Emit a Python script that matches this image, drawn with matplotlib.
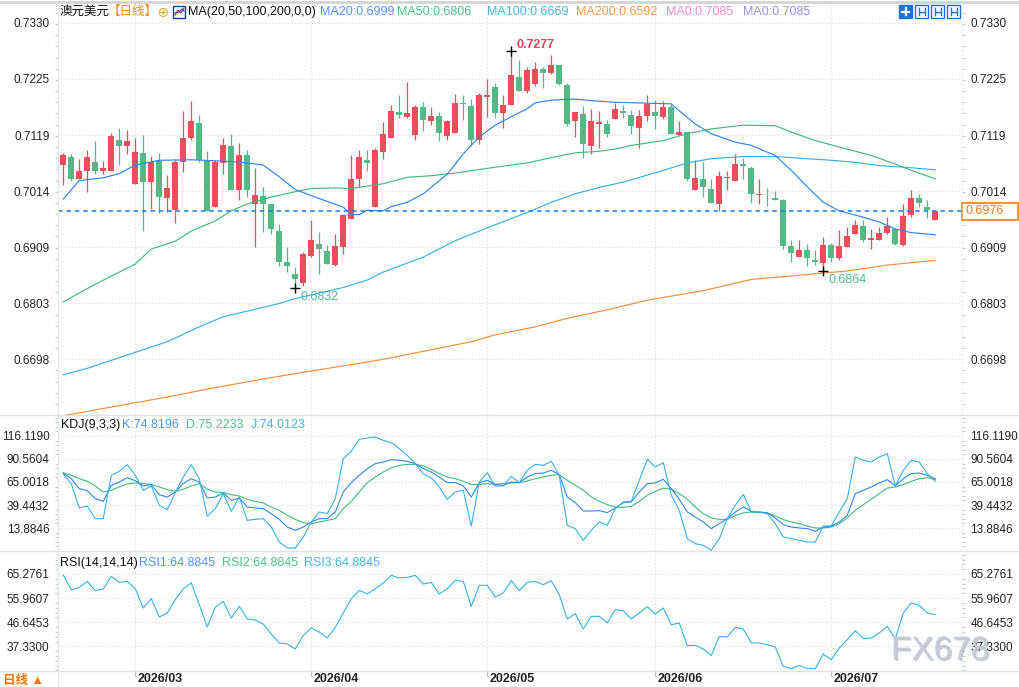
import matplotlib
matplotlib.use('Agg')
import matplotlib.pyplot as plt
import matplotlib.transforms as mtransforms
import matplotlib.patheffects as pe
from matplotlib.lines import Line2D
from matplotlib.patches import Rectangle
import numpy as np
import pandas as pd

plt.rcParams['font.family'] = ['Liberation Sans', 'Noto Sans CJK SC', 'DejaVu Sans']

# ---- daily candles, AUD/USD ----
start_day = '2026-02-17'
opens = [
    0.7063, 0.7079, 0.7037, 0.7052, 0.7068, 0.7052, 0.7052, 0.7111, 0.7099, 0.7027,
    0.7086, 0.7031, 0.7070, 0.7001, 0.6979, 0.7069, 0.7113, 0.7143, 0.7070, 0.6985,
    0.7066, 0.7098, 0.7017, 0.7081, 0.6990, 0.7004, 0.6989, 0.6940, 0.6880, 0.6858,
    0.6841, 0.6893, 0.6915, 0.6901, 0.6875, 0.6909, 0.6962, 0.7037, 0.7073, 0.6985,
    0.7087, 0.7114, 0.7163, 0.7154, 0.7119, 0.7173, 0.7145, 0.7155, 0.7118, 0.7123,
    0.7180, 0.7174, 0.7110, 0.7190, 0.7210, 0.7161, 0.7176, 0.7228, 0.7203, 0.7215,
    0.7244, 0.7236, 0.7252, 0.7214, 0.7146, 0.7159, 0.7098, 0.7141, 0.7141, 0.7149,
    0.7165, 0.7158, 0.7132, 0.7155, 0.7162, 0.7153, 0.7173, 0.7120, 0.7126, 0.7017,
    0.7037, 0.7018, 0.6990, 0.7038, 0.7033, 0.7065, 0.7058, 0.7006, 0.7005, 0.7001,
    0.6997, 0.6910, 0.6890, 0.6903, 0.6884, 0.6879, 0.6913, 0.6888, 0.6909, 0.6934,
    0.6948, 0.6923, 0.6923, 0.6935, 0.6942, 0.6912, 0.6970, 0.7001, 0.6985, 0.6960]
highs = [
    0.7086, 0.7083, 0.7075, 0.7091, 0.7108, 0.7070, 0.7123, 0.7133, 0.7128, 0.7113,
    0.7119, 0.7080, 0.7086, 0.7044, 0.7075, 0.7164, 0.7183, 0.7157, 0.7089, 0.7072,
    0.7113, 0.7121, 0.7105, 0.7092, 0.7058, 0.7021, 0.6990, 0.6953, 0.6909, 0.6871,
    0.6900, 0.6959, 0.6938, 0.6912, 0.6934, 0.6971, 0.7081, 0.7091, 0.7091, 0.7096,
    0.7144, 0.7176, 0.7195, 0.7219, 0.7176, 0.7182, 0.7173, 0.7163, 0.7147, 0.7197,
    0.7195, 0.7187, 0.7199, 0.7224, 0.7217, 0.7195, 0.7277, 0.7261, 0.7247, 0.7257,
    0.7247, 0.7269, 0.7252, 0.7218, 0.7163, 0.7174, 0.7168, 0.7165, 0.7147, 0.7179,
    0.7175, 0.7167, 0.7167, 0.7195, 0.7185, 0.7183, 0.7177, 0.7145, 0.7126, 0.7073,
    0.7068, 0.7037, 0.7052, 0.7052, 0.7084, 0.7076, 0.7062, 0.7037, 0.7020, 0.7015,
    0.7000, 0.6923, 0.6923, 0.6914, 0.6903, 0.6928, 0.6916, 0.6941, 0.6947, 0.6959,
    0.6959, 0.6943, 0.6947, 0.6966, 0.6942, 0.6989, 0.7017, 0.7009, 0.6998, 0.6976]
lows = [
    0.7025, 0.7033, 0.7036, 0.7012, 0.7047, 0.7046, 0.7052, 0.7063, 0.7083, 0.7027,
    0.6940, 0.6981, 0.6972, 0.6974, 0.6954, 0.7050, 0.7110, 0.7069, 0.6977, 0.6984,
    0.7047, 0.7016, 0.6998, 0.7003, 0.6909, 0.6937, 0.6934, 0.6874, 0.6862, 0.6832,
    0.6836, 0.6890, 0.6859, 0.6877, 0.6873, 0.6895, 0.6962, 0.7021, 0.7052, 0.6985,
    0.7075, 0.7114, 0.7151, 0.7152, 0.7111, 0.7127, 0.7138, 0.7108, 0.7111, 0.7123,
    0.7147, 0.7100, 0.7103, 0.7154, 0.7152, 0.7133, 0.7176, 0.7203, 0.7198, 0.7212,
    0.7207, 0.7234, 0.7214, 0.7137, 0.7116, 0.7077, 0.7084, 0.7096, 0.7115, 0.7149,
    0.7152, 0.7122, 0.7095, 0.7145, 0.7131, 0.7150, 0.7122, 0.7120, 0.7034, 0.7017,
    0.7003, 0.6992, 0.6977, 0.7017, 0.7033, 0.7037, 0.6992, 0.6990, 0.6987, 0.6997,
    0.6906, 0.6881, 0.6890, 0.6873, 0.6876, 0.6864, 0.6881, 0.6884, 0.6909, 0.6933,
    0.6918, 0.6906, 0.6923, 0.6934, 0.6912, 0.6911, 0.6965, 0.6985, 0.6964, 0.6960]
closes = [
    0.7081, 0.7037, 0.7052, 0.7079, 0.7052, 0.7058, 0.7117, 0.7099, 0.7108, 0.7088,
    0.7031, 0.7069, 0.7003, 0.7019, 0.7069, 0.7113, 0.7145, 0.7072, 0.6977, 0.7069,
    0.7100, 0.7017, 0.7081, 0.7016, 0.7006, 0.6990, 0.6943, 0.6881, 0.6873, 0.6849,
    0.6895, 0.6923, 0.6906, 0.6878, 0.6910, 0.6970, 0.7037, 0.7078, 0.7067, 0.7091,
    0.7121, 0.7164, 0.7158, 0.7160, 0.7173, 0.7147, 0.7155, 0.7123, 0.7145, 0.7180,
    0.7177, 0.7110, 0.7195, 0.7195, 0.7161, 0.7176, 0.7233, 0.7203, 0.7242, 0.7244,
    0.7236, 0.7252, 0.7215, 0.7141, 0.7163, 0.7102, 0.7145, 0.7144, 0.7121, 0.7169,
    0.7160, 0.7136, 0.7156, 0.7177, 0.7155, 0.7173, 0.7122, 0.7126, 0.7037, 0.7039,
    0.7022, 0.6992, 0.7042, 0.7040, 0.7065, 0.7061, 0.7008, 0.7009, 0.7004, 0.6997,
    0.6911, 0.6897, 0.6904, 0.6889, 0.6880, 0.6913, 0.6889, 0.6910, 0.6929, 0.6950,
    0.6923, 0.6926, 0.6936, 0.6948, 0.6914, 0.6968, 0.7001, 0.6992, 0.6979, 0.6976]

# moving averages (candle index, value)
ma20_idx = [0, 2, 5, 7, 9, 12, 16, 22, 25, 27, 29, 32, 35, 36, 37, 38, 40, 41, 43, 45,
            48, 50, 52, 54, 56, 58, 59, 61, 64, 66, 69, 76, 77, 79, 81, 84, 86, 89, 91, 93,
            95, 97, 100, 102, 104, 106, 109]
ma20_val = [0.6999, 0.7034, 0.7039, 0.7047, 0.7063, 0.7072, 0.7073, 0.7069, 0.7063, 0.7041,
            0.7017, 0.7000, 0.6984, 0.6970, 0.6970, 0.6978, 0.6977, 0.6985, 0.6993, 0.7009,
            0.7046, 0.7084, 0.7116, 0.7138, 0.7154, 0.7169, 0.7180, 0.7185, 0.7187, 0.7184,
            0.7181, 0.7178, 0.7165, 0.7140, 0.7122, 0.7106, 0.7100, 0.7081, 0.7053, 0.7022,
            0.6993, 0.6977, 0.6965, 0.6956, 0.6943, 0.6936, 0.6932]
ma50_idx = [0, 4, 9, 11, 14, 16, 19, 21, 23, 26, 29, 31, 34, 36, 40, 43, 46, 49, 54, 58,
            61, 64, 67, 69, 71, 75, 78, 81, 85, 89, 91, 94, 97, 101, 104, 106, 109]
ma50_val = [0.6806, 0.6839, 0.6877, 0.6905, 0.6920, 0.6939, 0.6958, 0.6977, 0.6990, 0.7003,
            0.7013, 0.7019, 0.7020, 0.7019, 0.7028, 0.7040, 0.7043, 0.7048, 0.7059, 0.7067,
            0.7077, 0.7086, 0.7089, 0.7093, 0.7100, 0.7109, 0.7122, 0.7131, 0.7138, 0.7137,
            0.7125, 0.7109, 0.7097, 0.7081, 0.7065, 0.7053, 0.7037]
ma100_idx = [0, 3, 8, 13, 17, 20, 24, 27, 29, 35, 38, 40, 45, 49, 53, 58, 61, 64, 67, 70,
             75, 78, 81, 85, 89, 92, 96, 99, 102, 106, 109]
ma100_val = [0.6669, 0.6681, 0.6706, 0.6731, 0.6759, 0.6778, 0.6792, 0.6803, 0.6812, 0.6833,
             0.6847, 0.6862, 0.6890, 0.6921, 0.6945, 0.6974, 0.6993, 0.7009, 0.7021, 0.7031,
             0.7053, 0.7067, 0.7075, 0.7079, 0.7079, 0.7076, 0.7072, 0.7068, 0.7062, 0.7058,
             0.7054]
ma200_idx = [0, 7, 13, 18, 25, 31, 36, 40, 46, 51, 54, 59, 63, 68, 73, 80, 86, 92, 98, 103, 109]
ma200_val = [0.6592, 0.6611, 0.6627, 0.6642, 0.6661, 0.6676, 0.6688, 0.6698, 0.6716, 0.6731,
             0.6744, 0.6759, 0.6775, 0.6791, 0.6809, 0.6827, 0.6848, 0.6856, 0.6864, 0.6875,
             0.6884]

# KDJ(9,3,3)
kdj_k = [
    74.82, 68.7, 57.6, 55.4, 46.5, 43.5, 61.3, 65.0, 69.8, 66.5,
    60.6, 62.1, 50.9, 48.3, 53.9, 63.2, 68.7, 65.0, 47.2, 48.3,
    52.8, 44.6, 47.2, 37.2, 36.1, 35.4, 29.8, 23.5, 15.0, 11.3,
    15.0, 20.6, 24.3, 24.3, 31.7, 53.9, 64.3, 72.4, 79.8, 85.4,
    87.2, 89.8, 89.1, 88.0, 85.4, 79.8, 76.1, 70.6, 64.3, 64.3,
    60.6, 48.3, 64.3, 66.9, 62.1, 61.3, 65.0, 64.3, 70.6, 74.3,
    75.0, 78.0, 73.2, 48.3, 42.1, 32.8, 32.8, 33.2, 30.9, 36.1,
    42.1, 42.8, 53.9, 63.2, 63.9, 68.0, 57.6, 45.8, 31.7, 26.1,
    20.6, 13.2, 18.7, 24.3, 31.7, 37.2, 32.4, 31.7, 30.9, 25.0,
    17.6, 15.0, 13.9, 13.2, 10.2, 15.0, 16.1, 20.6, 28.0, 52.1,
    55.8, 59.5, 63.9, 67.6, 60.6, 68.7, 74.3, 75.0, 72.4, 68.7]
kdj_d = [
    75.22, 72.4, 68.7, 65.8, 60.6, 53.9, 55.8, 59.5, 62.8, 63.9,
    63.2, 62.4, 59.5, 56.5, 54.6, 56.9, 60.6, 63.2, 56.9, 53.9,
    53.2, 50.9, 49.5, 45.8, 43.5, 41.7, 37.2, 33.5, 28.0, 23.5,
    19.8, 18.7, 20.6, 22.4, 24.3, 35.4, 43.5, 53.9, 64.3, 70.6,
    76.1, 80.6, 83.5, 84.6, 84.6, 82.8, 79.1, 74.3, 70.6, 68.7,
    65.8, 62.1, 62.1, 63.2, 62.4, 63.2, 63.9, 64.3, 66.1, 68.7,
    70.6, 72.4, 73.2, 66.9, 61.3, 55.8, 48.3, 43.5, 39.8, 37.2,
    36.9, 38.0, 43.5, 50.2, 54.6, 58.3, 56.9, 52.1, 45.8, 37.2,
    29.8, 25.0, 23.5, 23.5, 28.0, 30.6, 31.7, 30.9, 30.6, 27.2,
    23.2, 20.6, 18.7, 16.1, 13.9, 13.9, 15.0, 18.7, 25.0, 33.5,
    39.8, 45.8, 52.1, 58.3, 59.5, 62.1, 65.8, 68.7, 69.8, 67.6]
kdj_j = [
    74.01, 63.2, 36.1, 38.3, 24.3, 24.3, 72.4, 76.9, 84.3, 72.4,
    55.8, 60.6, 39.1, 34.3, 53.2, 70.6, 84.3, 68.7, 26.9, 35.4,
    52.1, 32.4, 48.3, 22.4, 23.5, 24.3, 15.0, -1.7, -8.3, -8.3,
    3.9, 20.6, 31.7, 29.8, 46.5, 90.9, 99.1, 112.4, 113.9, 115.0,
    111.3, 108.7, 102.1, 94.6, 85.4, 74.3, 69.5, 59.5, 45.8, 53.9,
    55.8, 16.1, 65.0, 75.4, 60.6, 60.6, 71.3, 64.3, 78.0, 84.6,
    83.5, 88.0, 72.4, 16.9, 13.2, 0.2, 11.3, 20.6, 16.9, 35.4,
    42.8, 43.5, 66.9, 90.2, 81.7, 86.5, 50.2, 33.5, 2.0, -3.5,
    -5.4, -10.9, 2.0, 24.3, 39.1, 51.3, 31.7, 31.7, 29.8, 18.7,
    3.9, 2.0, 0.2, -1.7, -1.7, 16.1, 16.1, 31.7, 46.5, 92.8,
    89.1, 87.2, 92.8, 96.5, 60.6, 78.0, 89.1, 87.2, 74.3, 65.8]

# RSI(14,14,14) - all three periods equal, so the three lines coincide
rsi = [
    64.88, 59.22, 60.12, 62.44, 58.83, 59.48, 64.37, 62.05, 62.44, 59.61,
    52.14, 55.74, 48.66, 50.20, 55.36, 59.61, 61.80, 53.42, 44.80, 52.39,
    54.71, 48.27, 52.78, 47.89, 47.50, 45.95, 42.09, 38.61, 38.23, 36.29,
    41.57, 44.41, 42.87, 40.54, 44.67, 50.20, 55.74, 58.96, 57.55, 59.61,
    61.80, 64.76, 63.73, 63.99, 64.76, 61.41, 62.05, 57.55, 59.61, 62.83,
    62.44, 52.78, 60.89, 60.89, 56.39, 57.93, 62.70, 58.83, 62.05, 62.44,
    61.15, 62.70, 57.29, 47.89, 49.95, 44.03, 48.92, 48.92, 46.34, 51.50,
    51.11, 47.89, 50.20, 52.65, 49.82, 52.14, 45.70, 46.34, 37.58, 37.71,
    36.29, 33.72, 41.19, 40.93, 44.67, 44.03, 38.61, 38.61, 37.97, 37.07,
    29.60, 28.70, 29.98, 28.70, 28.70, 34.36, 32.17, 36.68, 39.90, 43.38,
    40.29, 40.54, 42.48, 45.06, 40.16, 50.20, 54.07, 53.17, 50.20, 49.56]

main_ticks = [0.7330, 0.7225, 0.7119, 0.7014, 0.6909, 0.6803, 0.6698]
kdj_ticks = [116.1190, 90.5604, 65.0018, 39.4432, 13.8846]
rsi_ticks = [65.2761, 55.9607, 46.6453, 37.3300]

last_price = 0.6976
high_mark = (56, 0.7277)
low_marks = [(29, 0.6832), (95, 0.6864)]

ma_legend = [('MA20:0.6999', '#4f95f2', 320), ('MA50:0.6806', '#4cc486', 397),
             ('MA100:0.6669', '#45b5e8', 487), ('MA200:0.6592', '#f59a45', 576),
             ('MA0:0.7085', '#ee88d5', 666), ('MA0:0.7085', '#9d8df2', 743)]
kdj_legend = [('K:74.8196', '#4f95f2', 122), ('D:75.2233', '#4cc486', 186),
              ('J:74.0123', '#45b5e8', 251)]
rsi_legend = [('RSI1:64.8845', '#4f95f2', 139), ('RSI2:64.8845', '#4cc486', 222),
              ('RSI3:64.8845', '#45b5e8', 304)]

RED = '#eb4d5d'
GREEN = '#52b987'
C_MA20 = '#2f86ea'
C_MA50 = '#3fbb7c'
C_MA100 = '#34b1e8'
C_MA200 = '#f58d35'

# ---- layout in pixels ----
W, H = 1019, 687
fig = plt.figure(figsize=(W / 100, H / 100), dpi=100)
fig.patch.set_facecolor('white')


def fx(px):
    return px / W


def fy(py):
    return 1 - py / H


def panel(top, bottom):
    return fig.add_axes([fx(58), fy(bottom), fx(962) - fx(58), (bottom - top) / H])


ax_main = panel(4, 415)
ax_kdj = panel(415, 551)
ax_rsi = panel(551, 671)

dates = pd.bdate_range(start_day, periods=len(closes))
month_idx = [i for i in range(1, len(dates)) if dates[i].month != dates[i - 1].month]
month_lbl = [dates[i].strftime('%Y/%m') for i in month_idx]

x = np.arange(len(closes))
xlim = (-0.66, 112.34)

setups = [
    (ax_main, main_ticks, ['%.4f' % t for t in main_ticks], (0.65933, 0.73657)),
    (ax_kdj, kdj_ticks, ['%.4f' % t for t in kdj_ticks], (-11.67, 139.45)),
    (ax_rsi, rsi_ticks, ['%.4f' % t for t in rsi_ticks], (27.80, 74.16)),
]
for ax, ticks, labels, ylim in setups:
    ax.set_xlim(*xlim)
    ax.set_ylim(*ylim)
    ax.set_facecolor('none')
    for s in ax.spines.values():
        s.set_visible(False)
    ax.set_xticks([])
    ax.set_yticks(ticks)
    ax.set_yticklabels(labels)
    step = (ticks[0] - ticks[1]) / 5
    minors = np.arange(ticks[-1] - 10 * step, ticks[0] + 10 * step, step)
    minors = [m for m in minors if ylim[0] < m < ylim[1]]
    ax.set_yticks(minors, minor=True)
    ax.tick_params(axis='y', which='major', left=False, right=False,
                   labelleft=True, labelright=True, pad=2.6,
                   labelsize=8.5, labelcolor='#222222')
    ax.tick_params(axis='y', which='minor', left=True, right=True,
                   length=2.5, width=0.8, color='#c8ccd2', direction='out')
    for t in ticks:
        ax.axhline(t, color='#dcdcdc', lw=0.8, ls=(0, (1, 2)), zorder=0)
    for m in month_idx:
        ax.axvline(m, color='#dcdcdc', lw=0.8, ls=(0, (1, 2)), zorder=0)

# ---- candles ----
o, h, l, c = map(np.array, (opens, highs, lows, closes))
col = np.where(c >= o, RED, GREEN)
ax_main.vlines(x, l, h, colors=col, lw=0.9, zorder=2)
ax_main.bar(x, np.maximum(np.abs(c - o), 0.00009), 0.75, bottom=np.minimum(o, c),
            color=col, lw=0, zorder=3)

ax_main.plot(ma200_idx, ma200_val, color=C_MA200, lw=0.85, zorder=4)
ax_main.plot(ma100_idx, ma100_val, color=C_MA100, lw=0.85, zorder=4)
ax_main.plot(ma50_idx, ma50_val, color=C_MA50, lw=0.85, zorder=4)
ax_main.plot(ma20_idx, ma20_val, color=C_MA20, lw=0.85, zorder=4)

ax_main.axhline(last_price, color='#1a7fe8', lw=1.1, ls=(0, (3, 2.5)), zorder=5)

# price tag on the right axis
ypp = (0.73657 - 0.65933) / 411
trans = mtransforms.blended_transform_factory(ax_main.transAxes, ax_main.transData)
ax_main.add_patch(Rectangle((1.0, last_price - 8.5 * ypp), (1018 - 962) / 904, 17 * ypp,
                            transform=trans, facecolor='white', edgecolor='#f08a24',
                            lw=1.3, clip_on=False, zorder=10))
ax_main.text((966 - 58) / 904, last_price, '%.4f' % last_price, transform=trans,
             color='#f07c1e', fontsize=9, va='center', ha='left', clip_on=False, zorder=11)

# high / low markers
ax_main.plot(*high_mark, marker='+', ms=7, mew=1, color='black', zorder=6)
ax_main.annotate('%.4f' % high_mark[1], high_mark, xytext=(3.5, 4.5),
                 textcoords='offset points', color='#e8414f', fontsize=9,
                 fontweight='bold', va='center', ha='left', zorder=6)
for li, lv in low_marks:
    ax_main.plot(li, lv, marker='+', ms=7, mew=1, color='black', zorder=6)
    ax_main.annotate('%.4f' % lv, (li, lv), xytext=(3.5, -6.5),
                     textcoords='offset points', color='#4dbb98', fontsize=9,
                     va='center', ha='left', zorder=6)

# ---- KDJ ----
ax_kdj.plot(x, kdj_d, color=C_MA50, lw=0.8, clip_on=False)
ax_kdj.plot(x, kdj_k, color=C_MA20, lw=0.8, clip_on=False)
ax_kdj.plot(x, kdj_j, color=C_MA100, lw=0.8, clip_on=False)

# ---- RSI (RSI1 and RSI2 sit under RSI3, only the top one shows) ----
ax_rsi.plot(x, rsi, color=C_MA100, lw=0.8)

# ---- frame lines ----
def fline(x0, y0, x1, y1, color, lw=1.0, **kw):
    fig.add_artist(Line2D([fx(x0), fx(x1)], [fy(y0), fy(y1)], color=color, lw=lw, **kw))


fline(0, 1.5, W, 1.5, '#d4d4d4', lw=2)
fline(0, 415, W, 415, '#dde2e8')
fline(0, 551, W, 551, '#dde2e8')
fline(0, 671, W, 671, '#dde2e8')
fline(58, 4, 58, H, '#e3e6ea')
fline(962, 4, 962, 671, '#e3e6ea', ls=(0, (1, 2)))

# month labels on the bottom strip
tb = mtransforms.blended_transform_factory(ax_rsi.transData, fig.transFigure)
for m, lab in zip(month_idx, month_lbl):
    ax_rsi.add_artist(Line2D([m, m], [fy(671), fy(676)], transform=tb,
                             color='#b8bec6', lw=0.8, clip_on=False))
    ax_rsi.text(m + 0.25, fy(678.5), lab, transform=tb, fontsize=9, fontweight='bold',
                color='#222222', va='center', ha='left', clip_on=False)

fig.text(fx(3), fy(681), '日线 ▲', fontsize=9, fontweight='bold', color='#f07800',
         va='center', ha='left')

# ---- legends ----
fig.text(fx(60), fy(12), '澳元美元', fontsize=9, color='#111111', va='center')
fig.text(fx(108), fy(12), '【日线】', fontsize=9, color='#f08a24', va='center')
fig.text(fx(156), fy(13), '⊕', fontsize=9, color='#f08a24', va='center')
fig.add_artist(Rectangle((fx(173), fy(18)), 12 / W, 12 / H, transform=fig.transFigure,
                         facecolor='white', edgecolor='#1b3f91', lw=1))
fig.add_artist(Line2D([fx(175), fx(178), fx(181), fx(184)], [fy(15), fy(10), fy(13), fy(8)],
                      color='#e03040', lw=0.9))
fig.add_artist(Line2D([fx(175), fx(179), fx(182), fx(184)], [fy(13), fy(12), fy(9), fy(11)],
                      color='#2050c0', lw=0.9))
fig.text(fx(188), fy(12), 'MA(20,50,100,200,0,0)', fontsize=9, color='#111111', va='center')
for s, colr, px in ma_legend:
    fig.text(fx(px), fy(12), s, fontsize=9, color=colr, va='center')

fig.text(fx(61), fy(424.5), 'KDJ(9,3,3)', fontsize=9, color='#111111', va='center')
for s, colr, px in kdj_legend:
    fig.text(fx(px), fy(424.5), s, fontsize=9, color=colr, va='center')

fig.text(fx(60), fy(563), 'RSI(14,14,14)', fontsize=9, color='#111111', va='center')
for s, colr, px in rsi_legend:
    fig.text(fx(px), fy(563), s, fontsize=9, color=colr, va='center')

# toolbar icons, top right
for k, x0 in enumerate([899, 915, 931, 947]):
    fig.add_artist(Rectangle((fx(x0), fy(18)), 13 / W, 13 / H, transform=fig.transFigure,
                             facecolor='#1976d2' if k == 0 else 'white',
                             edgecolor='#1976d2', lw=1))
    if k == 0:
        fline(x0 + 3, 11.5, x0 + 10, 11.5, 'white', lw=1.6)
        fline(x0 + 6.5, 8, x0 + 6.5, 15, 'white', lw=1.6)
    else:
        fline(x0 + 3.5, 8, x0 + 3.5, 15, '#1976d2', lw=1)
        fline(x0 + 5, 11.5, x0 + 10, 11.5, '#1976d2', lw=1)
        fline(x0 + 9.5, 8, x0 + 9.5, 15, '#1976d2', lw=1)

# watermark (sits over the 37.3300 label, as in the source)
fig.text(fx(891), fy(651), 'FX678', fontsize=24, color='#c6ccd5', va='center', ha='left',
         zorder=20, path_effects=[pe.withSimplePatchShadow(offset=(1, -1),
                                                           shadow_rgbFace='#8f99a6',
                                                           alpha=0.5)])

fig.savefig('out.png', dpi=100, facecolor='white')
